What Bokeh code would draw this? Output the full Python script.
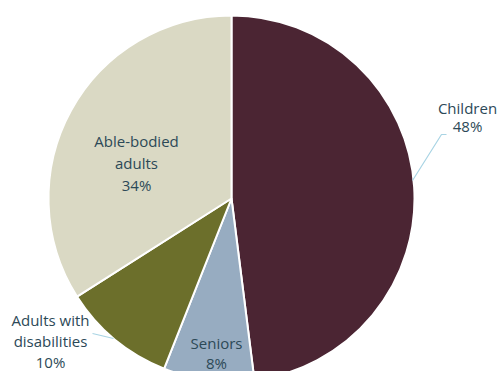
import math
from bokeh.plotting import figure
from bokeh.models import Range1d, ColumnDataSource
from bokeh.embed import file_html
from bokeh.resources import INLINE
from bokeh.core.properties import value

# Data
categories = ["Children", "Seniors", "Adults with\ndisabilities", "Able-bodied\nadults"]
shares = [48, 8, 10, 34]
colors = ["#4B2533", "#97ACC1", "#6C6F2B", "#DAD9C4"]

W, H = 500, 371
p = figure(width=W, height=H, output_backend="svg", toolbar_location=None,
           x_range=Range1d(0, W), y_range=Range1d(0, H), min_border=0)
p.axis.visible = False
p.grid.visible = False
p.outline_line_color = None
p.background_fill_color = "white"
p.border_fill_color = "white"

cx, cy, r = 231, H - 198, 183
total = sum(shares)
starts, ends = [], []
a = math.pi / 2
for s in shares:
    starts.append(a)
    a -= 2 * math.pi * s / total
    ends.append(a)

src = ColumnDataSource(dict(start=starts, end=ends, color=colors))
p.wedge(x=cx, y=cy, radius=r, start_angle="start", end_angle="end",
        direction="clock", fill_color="color", line_color="white",
        line_width=2, source=src)

# Labels: (center x, top line y in image coords, line gap)
label_pos = [(467, 107, 18), (216, 342, 20), (50, 319, 21), (136, 140, 22)]
tx, ty, tt = [], [], []
for cat, sh, (lx, ly, gap) in zip(categories, shares, label_pos):
    lines = cat.split("\n") + [f"{sh}%"]
    for i, ln in enumerate(lines):
        tx.append(lx)
        ty.append(H - (ly + i * gap))
        tt.append(ln)

p.text(x=tx, y=ty, text=tt, text_align="center", text_baseline="middle",
       text_font=value("Open Sans"), text_font_size="15px", text_color="#2C4957")

# Leader lines
p.line(x=[412, 441, 446], y=[H - 180, H - 134, H - 134], line_color="#A9D4E4", line_width=1.2)
p.line(x=[92, 113], y=[H - 333, H - 338], line_color="#A9D4E4", line_width=1.2)

open("out.html", "w").write(file_html(p, INLINE))
